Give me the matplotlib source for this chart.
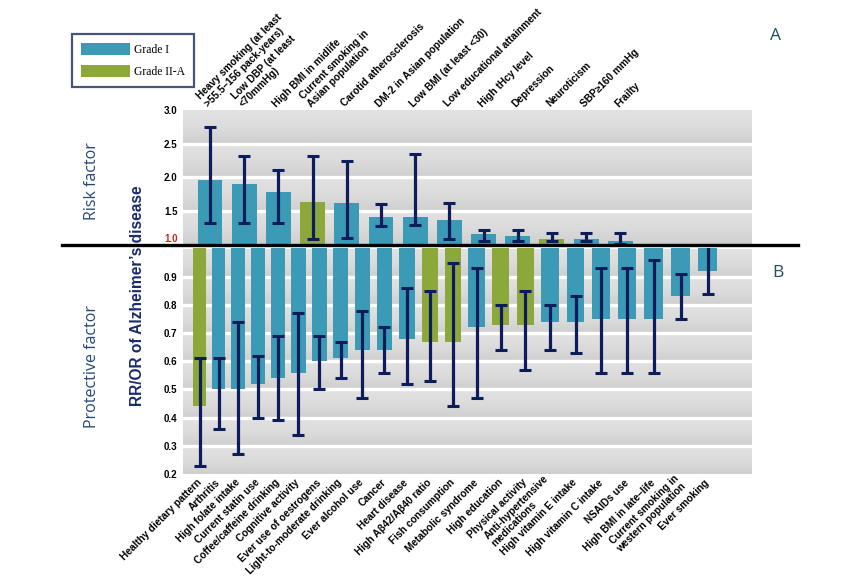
"""Risk and protective factors for Alzheimer's disease (RR/OR with 95% CI)."""

import matplotlib

matplotlib.use("Agg")

import matplotlib.pyplot as plt
import numpy as np
from matplotlib.colors import LinearSegmentedColormap
from matplotlib.lines import Line2D
from matplotlib.patches import Patch

# --- risk factors (panel A) ---
risk_labels = [
    "Heavy smoking (at least\n>55.5\u2013156 pack-years)",
    "Low DBP (at least\n<70mmHg)",
    "High BMI in midlife",
    "Current smoking in\nAsian population",
    "Carotid atherosclerosis",
    "DM-2 in Asian population",
    "Low BMI (at least <30)",
    "Low educational attainment",
    "High tHcy level",
    "Depression",
    "Neuroticism",
    "SBP\u2265160 mmHg",
    "Frailty",
]
risk_value = [1.95, 1.89, 1.78, 1.63, 1.61, 1.41, 1.41, 1.36, 1.15, 1.12, 1.08, 1.08, 1.05]
risk_low = [1.32, 1.32, 1.32, 1.07, 1.09, 1.27, 1.28, 1.07, 1.05, 1.05, 1.05, 1.05, 1.00]
risk_high = [2.74, 2.32, 2.10, 2.32, 2.24, 1.60, 2.34, 1.61, 1.21, 1.21, 1.16, 1.17, 1.16]
risk_grade = ["I", "I", "I", "II-A", "I", "I", "I", "I", "I", "I", "II-A", "I", "I"]

# --- protective factors (panel B) ---
prot_labels = [
    "Healthy dietary pattern",
    "Arthritis",
    "High folate intake",
    "Current statin use",
    "Coffee/caffeine drinking",
    "Cognitive activity",
    "Ever use of oestrogens",
    "Light-to-moderate drinking",
    "Ever alcohol use",
    "Cancer",
    "Heart disease",
    "High A\u03b242/A\u03b240 ratio",
    "Fish consumption",
    "Metabolic syndrome",
    "High education",
    "Physical activity",
    "Anti-hypertensive\nmedications",
    "High vitamin E intake",
    "High vitamin C intake",
    "NSAIDs use",
    "High BMI in late\u2013life",
    "Current smoking in\nwestern population",
    "Ever smoking",
]
prot_value = [0.44, 0.50, 0.50, 0.52, 0.54, 0.56, 0.60, 0.61, 0.64, 0.64, 0.68, 0.67,
              0.67, 0.72, 0.73, 0.73, 0.74, 0.74, 0.75, 0.75, 0.75, 0.83, 0.92]
prot_low = [0.23, 0.36, 0.27, 0.40, 0.39, 0.34, 0.50, 0.54, 0.47, 0.56, 0.52, 0.53,
            0.44, 0.47, 0.64, 0.57, 0.64, 0.63, 0.56, 0.56, 0.56, 0.75, 0.84]
prot_high = [0.61, 0.61, 0.74, 0.62, 0.69, 0.77, 0.69, 0.67, 0.78, 0.72, 0.86, 0.85,
             0.95, 0.93, 0.80, 0.85, 0.80, 0.83, 0.93, 0.93, 0.96, 0.91, 1.01]
prot_grade = ["II-A", "I", "I", "I", "I", "I", "I", "I", "I", "I", "I", "II-A",
              "II-A", "I", "II-A", "II-A", "I", "I", "I", "I", "I", "I", "I"]

risk_ticks = [1.0, 1.5, 2.0, 2.5, 3.0]
prot_ticks = [0.2, 0.3, 0.4, 0.5, 0.6, 0.7, 0.8, 0.9]

GRADE_COLORS = {"I": "#3b9bb6", "II-A": "#8ca83b"}
ERR_COLOR = "#0d1d5c"
BAND_CMAP = LinearSegmentedColormap.from_list("band", ["#cfcfcf", "#dcdcdc", "#e2e2e2"])
W, H = 860, 576

# the lower panel is drawn in slight perspective: slots widen to the right
PERSP_B, PERSP_C = 18.73, 0.198


def persp_fwd(x):
    x = np.asarray(x, dtype=float)
    return PERSP_B * x + PERSP_C * x ** 2


def persp_inv(y):
    y = np.asarray(y, dtype=float)
    disc = np.maximum(PERSP_B ** 2 + 4 * PERSP_C * y, 0.0)
    return (-PERSP_B + np.sqrt(disc)) / (2 * PERSP_C)


def fig_box(x0, y0, x1, y1):
    """Pixel box (top-left origin) -> figure fraction rect."""
    return [x0 / W, 1 - y1 / H, (x1 - x0) / W, (y1 - y0) / H]


def shade_bands(ax, ticks):
    """Light grey bands with a soft vertical gradient, split by white lines."""
    grad = np.linspace(0.0, 1.0, 64).reshape(-1, 1)
    x0, x1 = ax.get_xlim()
    for lo, hi in zip(ticks[:-1], ticks[1:]):
        ax.imshow(grad, extent=[x0, x1, lo, hi], aspect="auto", cmap=BAND_CMAP,
                  origin="lower", zorder=0, interpolation="bilinear")
    for t in ticks[1:-1]:
        ax.axhline(t, color="white", lw=2.4, zorder=1)
    ax.set_xlim(x0, x1)


def style_axis(ax):
    for s in ax.spines.values():
        s.set_visible(False)
    ax.tick_params(axis="y", length=0, pad=4)
    for lab in ax.get_yticklabels():
        lab.set_fontweight("bold")
        lab.set_fontsize(7)
        lab.set_family("Liberation Sans")


fig = plt.figure(figsize=(W / 100, H / 100), dpi=100)
fig.patch.set_facecolor("white")

err_kw = dict(fmt="none", ecolor=ERR_COLOR, elinewidth=2.3, capsize=4.0,
              capthick=2.2, zorder=4)
label_kw = dict(rotation=45, rotation_mode="anchor", multialignment="left",
                fontsize=7.3, fontweight="bold", family="Liberation Sans",
                linespacing=1.1)

# ---- panel A: risk factors ----
ax_top = fig.add_axes(fig_box(183, 110, 752, 244))
xr = np.arange(len(risk_value))
ax_top.set_xlim(-0.79, 15.85)
shade_bands(ax_top, risk_ticks)
rv = np.array(risk_value)
ax_top.bar(xr, rv - 1, bottom=1, width=0.73,
           color=[GRADE_COLORS[g] for g in risk_grade], zorder=3)
ax_top.errorbar(xr, rv, yerr=[rv - np.array(risk_low), np.array(risk_high) - rv], **err_kw)
ax_top.set_ylim(1.0, 3.0)
ax_top.set_yticks(risk_ticks)
ax_top.set_yticklabels([f"{t:.1f}" for t in risk_ticks])
ax_top.xaxis.tick_top()
ax_top.set_xticks(xr)
ax_top.set_xticklabels(risk_labels, ha="left", va="bottom", **label_kw)
ax_top.tick_params(axis="x", length=0, pad=1)
style_axis(ax_top)
first = ax_top.get_yticklabels()[0]
first.set_color("#d62020")
first.set_va("bottom")

# ---- panel B: protective factors ----
ax_bot = fig.add_axes(fig_box(183, 248.5, 752, 474))
ax_bot.set_xscale("function", functions=(persp_fwd, persp_inv))
xp = np.arange(len(prot_value))
ax_bot.set_xlim(-0.9, 23.59)
shade_bands(ax_bot, prot_ticks + [1.0])
pv = np.array(prot_value)
ax_bot.bar(xp, pv - 1, bottom=1, width=0.7,
           color=[GRADE_COLORS[g] for g in prot_grade], zorder=3)
ax_bot.errorbar(xp, pv, yerr=[pv - np.array(prot_low), np.array(prot_high) - pv], **err_kw)
ax_bot.set_ylim(0.2, 1.0)
ax_bot.set_yticks(prot_ticks)
ax_bot.set_yticklabels([f"{t:.1f}" for t in prot_ticks])
ax_bot.set_xticks(xp)
ax_bot.set_xticklabels(prot_labels, ha="right", va="center", **label_kw)
ax_bot.xaxis.set_minor_locator(plt.NullLocator())
ax_bot.tick_params(axis="x", length=0, pad=5)
style_axis(ax_bot)

# divider line between the two panels
fig.add_artist(Line2D([62 / W, 798 / W], [1 - 244.5 / H] * 2, color="black", lw=2.4))

# side texts
side_color = "#24477a"
fig.text(92 / W, 1 - 181 / H, "Risk factor", rotation=90, ha="center", va="center",
         fontsize=11.5, color=side_color, family="Open Sans")
fig.text(92 / W, 1 - 367 / H, "Protective factor", rotation=90, ha="center", va="center",
         fontsize=11.5, color=side_color, family="Open Sans")
fig.text(137.5 / W, 1 - 296 / H, "RR/OR of Alzheimer\u2019s disease", rotation=90,
         ha="center", va="center", fontsize=11.2, fontweight="bold", color="#1a2a6c",
         family="Liberation Sans")
fig.text(775 / W, 1 - 36 / H, "A", ha="center", va="center", fontsize=12.5,
         color="#1f4e5f", family="Open Sans")
fig.text(778 / W, 1 - 273 / H, "B", ha="center", va="center", fontsize=12.5,
         color="#1f4e5f", family="Open Sans")

# legend
handles = [Patch(facecolor=GRADE_COLORS["I"], label="Grade I"),
           Patch(facecolor=GRADE_COLORS["II-A"], label="Grade II-A")]
leg = fig.legend(handles=handles, loc="upper left", bbox_to_anchor=(72 / W, 1 - 34 / H),
                 borderaxespad=0, frameon=True, fancybox=False, handlelength=4.2,
                 handleheight=1.3, handletextpad=0.35, borderpad=0.75, labelspacing=0.75,
                 prop={"family": "Liberation Serif", "size": 8.4})
leg.get_frame().set_edgecolor("#1a2a5a")
leg.get_frame().set_linewidth(1.6)

fig.savefig("out.png", dpi=100)
